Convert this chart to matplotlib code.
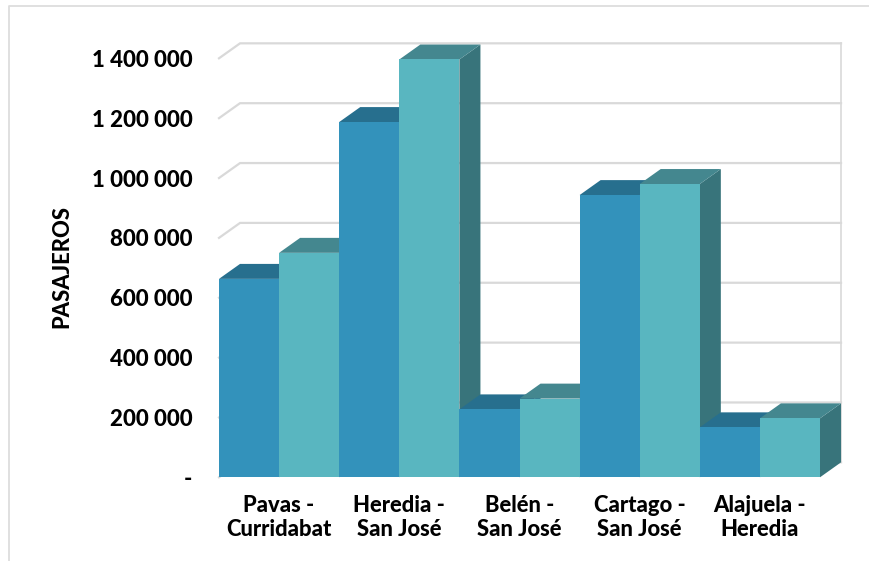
import numpy as np
import matplotlib
matplotlib.use('Agg')
import matplotlib.pyplot as plt
from matplotlib.lines import Line2D

categories = ['Pavas -\nCurridabat', 'Heredia -\nSan José', 'Belén -\nSan José',
              'Cartago -\nSan José', 'Alajuela -\nHeredia']
serie_a = [663000, 1187000, 227000, 943000, 167000]
serie_b = [750000, 1396000, 263000, 980000, 197000]
y_ticks = [0, 200000, 400000, 600000, 800000, 1000000, 1200000, 1400000]
y_labels = ['-', '200 000', '400 000', '600 000', '800 000', '1 000 000', '1 200 000', '1 400 000']

# colores: frente, tapa, costado
colores_a = ('#3392BB', '#276F8E', '#2A7A9C')
colores_b = ('#59B6C0', '#44878F', '#38747B')
GRID = '#D9D9D9'

# profundidad del efecto 3D en unidades de datos
dx = 0.175
dy = 50000
ancho = 0.5

plt.rcParams['font.family'] = ['Lato', 'DejaVu Sans']

fig = plt.figure(figsize=(8.69, 5.61), dpi=100)
W, H = 869, 561
ax = fig.add_axes([219 / W, 1 - 477.3 / H, 601 / W, 419 / H])
ax.set_xlim(-0.5, 4.5)
ax.set_ylim(0, 1400000)
for s in ax.spines.values():
    s.set_visible(False)


# marco del grafico
fig.add_artist(Line2D([8.5 / W, 8.5 / W, 1], [0, 1 - 5.5 / H, 1 - 5.5 / H],
                      color='#DDDDDD', lw=1.3, transform=fig.transFigure))

# lineas de la pared y del costado
for v in y_ticks:
    ax.plot([-0.5, -0.5 + dx, 4.5 + dx], [v, v + dy, v + dy], color=GRID, lw=1.6,
            clip_on=False, zorder=1, solid_joinstyle='miter')
ax.plot([4.5 + dx, 4.5 + dx], [dy, 1400000 + dy], color=GRID, lw=1.2, clip_on=False, zorder=1)


# dibuja una barra con costado, tapa y frente
def draw_bar(left, value, colores, z):
    ax.fill([left + ancho, left + ancho + dx, left + ancho + dx, left + ancho],
            [0, dy, value + dy, value], color=colores[2], lw=0, clip_on=False, zorder=z)
    ax.fill([left, left + dx, left + ancho + dx, left + ancho],
            [value, value + dy, value + dy, value], color=colores[1], lw=0, clip_on=False, zorder=z)
    ax.bar(left, value, width=ancho, align='edge', color=colores[0], lw=0, zorder=z)


z = 2
for i in range(len(categories)):
    draw_bar(i - ancho, serie_a[i], colores_a, z)
    draw_bar(i, serie_b[i], colores_b, z + 1)
    z += 2

ax.set_xticks(range(len(categories)))
ax.set_xticklabels(categories, fontsize=15.8, fontweight=900, linespacing=1.14)
ax.set_yticks(y_ticks)
ax.set_yticklabels(y_labels, fontsize=16, fontweight=900)
ax.tick_params(axis='y', length=0, pad=19)
ax.tick_params(axis='x', length=0, pad=13)

fig.text(62 / W, 1 - 266 / H, 'PASAJEROS', rotation=90, ha='center', va='center',
         fontsize=15.8, fontweight=900)

fig.savefig('out.png', dpi=100)
